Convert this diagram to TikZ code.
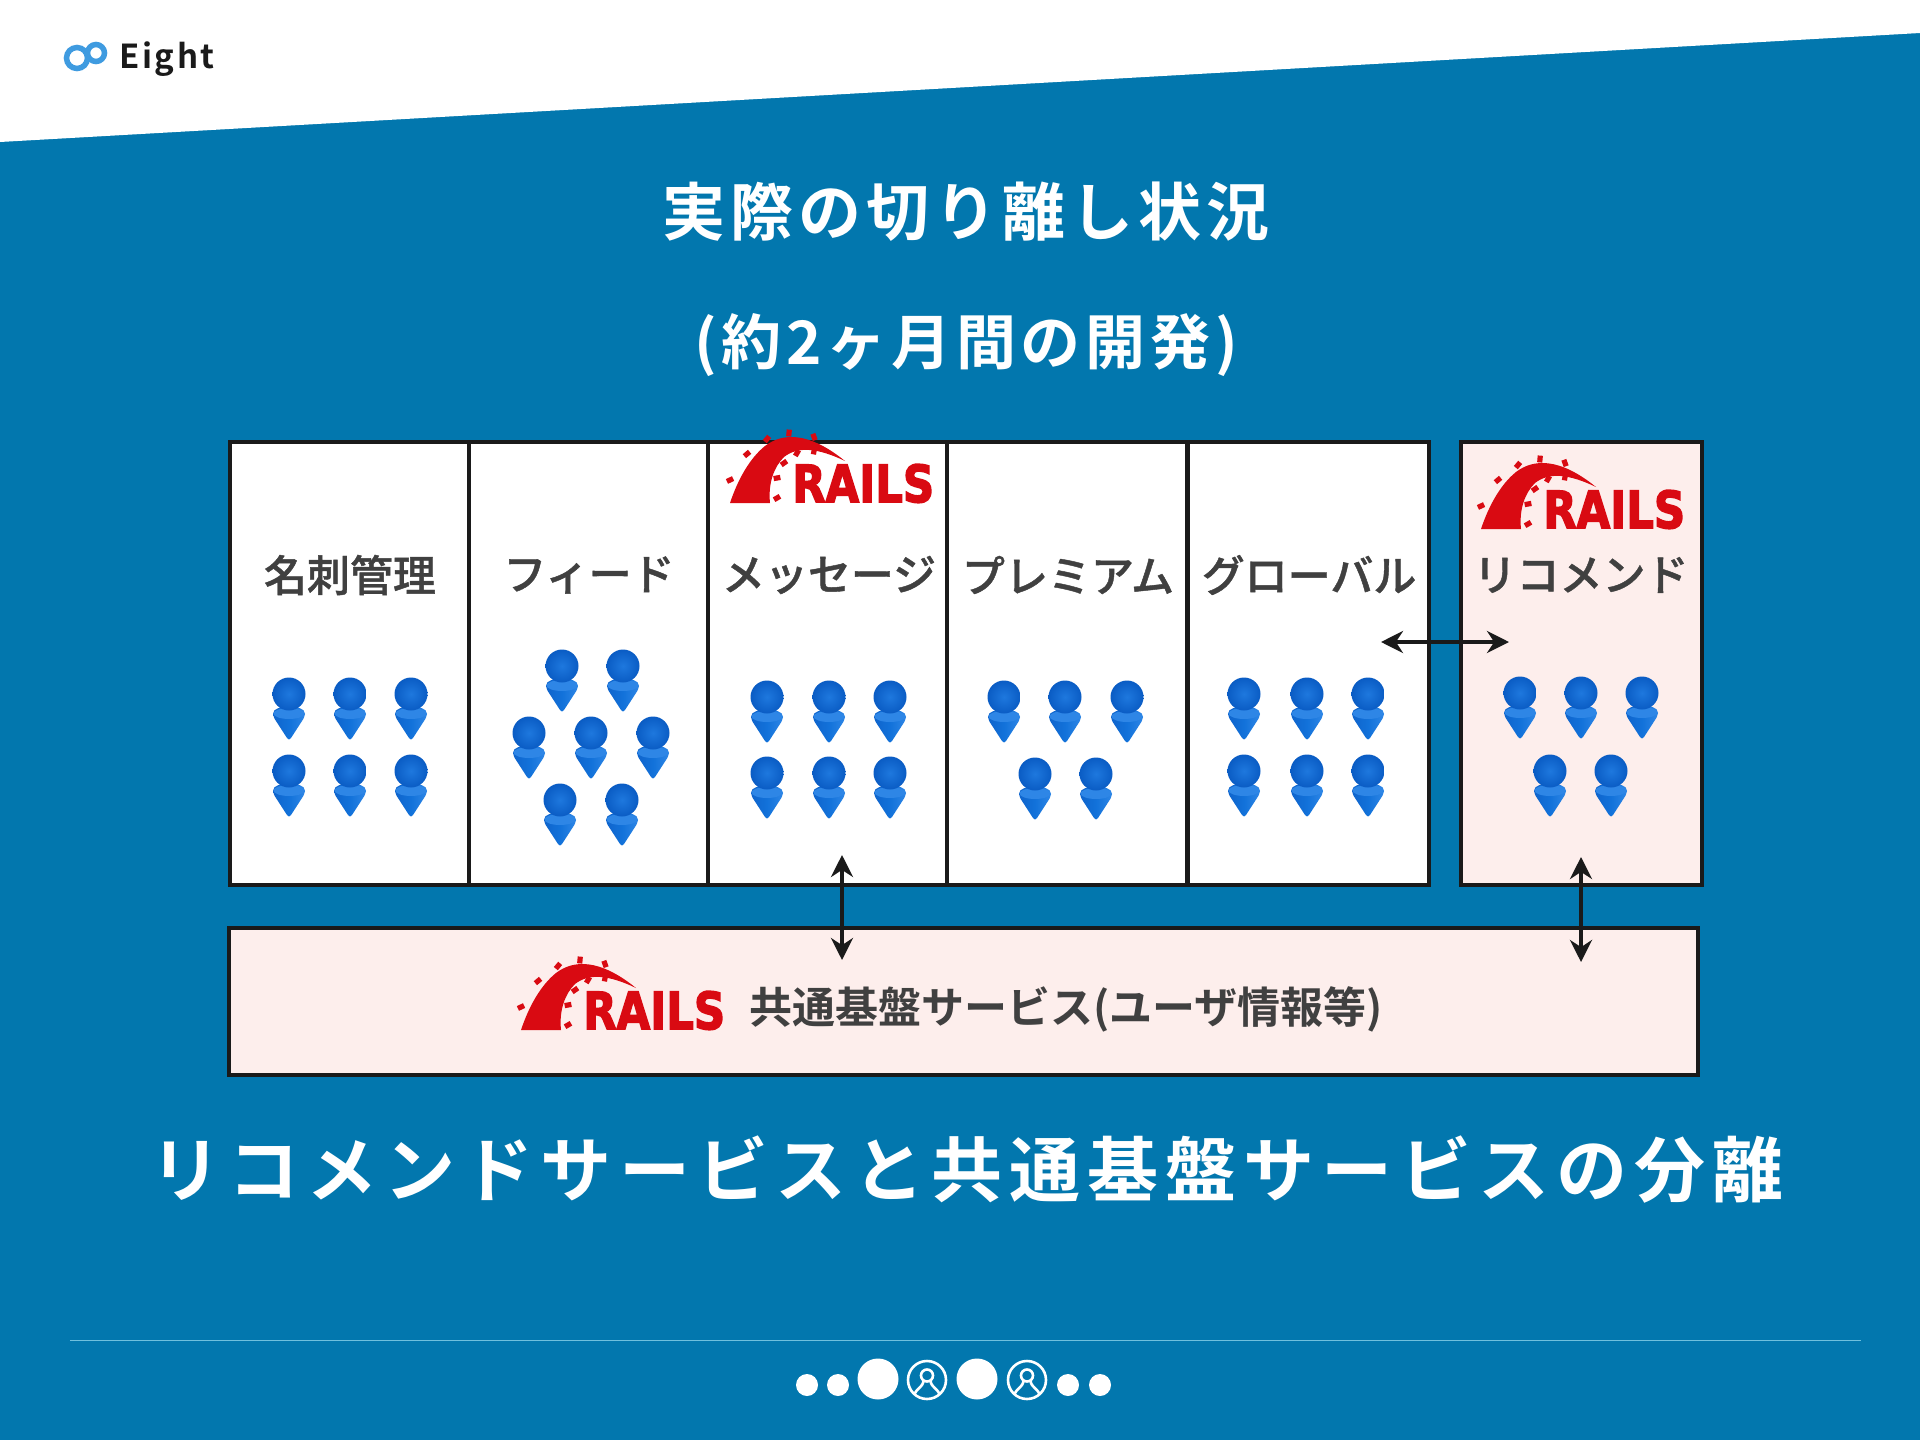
\documentclass[tikz,border=0pt]{standalone}
\usepackage{fontspec}
\usepackage{graphicx}
\usetikzlibrary{arrows.meta}
\setmainfont{Noto Sans CJK JP}
\newfontfamily\jpm[FakeBold=1]{Noto Sans CJK JP Medium}
\newfontfamily\jpbold{Noto Sans CJK JP Bold}
\newfontfamily\jptitle[LetterSpace=8]{Noto Sans CJK JP Bold}
\newfontfamily\jpbig[LetterSpace=10]{Noto Sans CJK JP Bold}
\newfontfamily\eightfont[LetterSpace=8]{Noto Sans CJK JP Bold}
\newfontfamily\railsfont[FakeBold=3]{DejaVu Sans Bold}
\definecolor{bgblue}{HTML}{0277AE}
\definecolor{pinkfill}{HTML}{FDEEEC}
\definecolor{inkdark}{HTML}{1A1A1A}
\definecolor{labelgray}{HTML}{404040}
\definecolor{railsred}{HTML}{D90A12}
\definecolor{pinblue}{HTML}{1272DA}
\definecolor{pinlight}{HTML}{2E86E6}
\definecolor{pindeep}{HTML}{0F64CC}
\definecolor{pinball}{HTML}{1E78DE}
\definecolor{pinballedge}{HTML}{0A5CC4}
\definecolor{eightblue}{HTML}{3F9BE0}
\definecolor{ruleblue}{HTML}{6FC0DE}
\tikzset{
  x=1pt,y=-1pt,
  cellbox/.style={draw=inkdark,line width=3.5pt,fill=white,anchor=north west,inner sep=0pt,outer sep=0pt},
  pinkbox/.style={cellbox,fill=pinkfill},
  celllabel/.style={text=labelgray,inner sep=0pt,font=\jpm\fontsize{43}{50}\selectfont},
  dblarrow/.style={{Stealth[length=22pt,width=22pt]}-{Stealth[length=22pt,width=22pt]},line width=4.5pt,draw=inkdark},
  bigdot/.style={circle,fill=white,inner sep=0pt,outer sep=0pt,minimum size=41pt},
  smalldot/.style={circle,fill=white,inner sep=0pt,outer sep=0pt,minimum size=22pt},
  pinicon/.pic={
    \path[shade,left color=pindeep,right color=pinlight,middle color=pinblue]
      (-16,20) .. controls (-16,14) and (-8,13) .. (0,13) .. controls (8,13) and (16,14) .. (16,20)
      .. controls (15,24) and (14,26) .. (13,27) -- (2,44) .. controls (1,46) and (-1,46) .. (-2,44) -- (-13,27)
      .. controls (-14,26) and (-15,24) .. (-16,20) -- cycle;
    \fill[pinlight] (0,19.5) ellipse (15.5pt and 5.5pt);
    \shade[inner color=pinball,outer color=pinballedge] (0,0) circle (16.5pt);
  },
  railslogo/.pic={
    \fill[railsred] (0,0) .. controls (8,-24) and (20,-45) .. (35,-57)
      .. controls (52,-70) and (78,-72) .. (115,-42)
      .. controls (88,-55) and (68,-57) .. (54,-46)
      .. controls (44,-36) and (38,-20) .. (40,0) -- cycle;
    \foreach \dx/\dy/\ang in {0/-23/25,17/-49/40,37/-64/50,59/-70/85,84/-66/110,47/-5/30,47/-25/10,54/-40/35,67/-50/60,84/-52/80}{
      \fill[railsred,rotate around={\ang:(\dx,\dy)}] (\dx-3.4,\dy-2.6) rectangle (\dx+3.4,\dy+2.6);
    }
    \node[anchor=south west,inner sep=0pt,text=railsred] (word) at (62,0) {\resizebox{142pt}{38pt}{\railsfont RAILS}};
  },
  personicon/.pic={
    \draw[white,line width=2.6pt] (0,0) circle (19pt);
    \draw[white,line width=2.6pt] (0,-4.5) circle (6pt);
    \draw[white,line width=2.6pt] (-12.5,14) .. controls (-9,7) and (-5,8) .. (-3.5,1);
    \draw[white,line width=2.6pt] (12.5,14) .. controls (9,7) and (5,8) .. (3.5,1);
  }
}
\begin{document}
\begin{tikzpicture}[x=1pt,y=-1pt]
\useasboundingbox (0,0) rectangle (1920,1440);
\fill[bgblue] (0,0) rectangle (1920,1440);
\fill[white] (0,0) -- (1920,0) -- (1920,33) -- (0,142) -- cycle;

% logo
\draw[eightblue,line width=5.5pt] (77,58) circle (10.5pt);
\draw[eightblue,line width=5.5pt] (96,53) circle (8.5pt);
\node[anchor=base west,inner sep=0pt,text=inkdark,font=\eightfont\fontsize{33}{40}\selectfont] (brand) at (119,68) {Eight};

% titles
\node[text=white,inner sep=0pt,font=\jptitle\fontsize{63}{70}\selectfont] (title1) at (966,212) {実際の切り離し状況};
\node[text=white,inner sep=0pt,font=\jptitle\fontsize{60}{70}\selectfont] (title2) at (966,345) {(約2ヶ月間の開発)};

% cells
\node[cellbox,minimum width=239pt,minimum height=443pt] (c1) at (230,442) {};
\node[cellbox,minimum width=239pt,minimum height=443pt] (c2) at (469,442) {};
\node[cellbox,minimum width=239pt,minimum height=443pt] (c3) at (708,442) {};
\node[cellbox,minimum width=240pt,minimum height=443pt] (c4) at (947,442) {};
\node[cellbox,minimum width=241pt,minimum height=443pt] (c5) at (1188,442) {};
\node[pinkbox,minimum width=241pt,minimum height=443pt] (c6) at (1461,442) {};
\node[pinkbox,minimum width=1469pt,minimum height=147pt] (base) at (229,928) {};

% labels
\node[celllabel] (l1) at (350,575) {名刺管理};
\node[celllabel] (l2) at (589,575) {フィード};
\node[celllabel] (l3) at (829,575) {メッセージ};
\node[celllabel] (l4) at (1068,575) {プレミアム};
\node[celllabel] (l5) at (1309,575) {グローバル};
\node[celllabel] (l6) at (1581,575) {リコメンド};
\node[celllabel,font=\jpbold\fontsize{43}{50}\selectfont] (l7) at (1066,1009) {共通基盤サービス(ユーザ情報等)};

% rails logos
\pic (ra) at (730,503) {railslogo};
\pic (rb) at (1481,529) {railslogo};
\pic (rc) at (521,1030) {railslogo};

% pins
\foreach \px/\py in {289/694,350/694,411/694,289/771,350/771,411/771,
  562/666,623/666,529/733,591/733,653/733,560/800,622/800,
  767/697,829/697,890/697,767/773,829/773,890/773,
  1004/697,1065/697,1127/697,1035/774,1096/774,
  1244/694,1307/694,1368/694,1244/771,1307/771,1368/771,
  1520/693,1581/693,1642/693,1550/771,1611/771}{
  \pic at (\px,\py) {pinicon};
}

% connectors
\coordinate (h1) at (1381,642);
\coordinate (h2) at (1509,642);
\coordinate (v1a) at (842,855);
\coordinate (v1b) at (842,960);
\coordinate (v2a) at (1581,857);
\coordinate (v2b) at (1581,962);
\draw[dblarrow] (h1) -- (h2);
\draw[dblarrow] (v1a) -- (v1b);
\draw[dblarrow] (v2a) -- (v2b);

% bottom text
\node[text=white,inner sep=0pt,font=\jpbig\fontsize{71}{80}\selectfont] (big) at (967,1170) {リコメンドサービスと共通基盤サービスの分離};

% footer
\draw[ruleblue,line width=1pt] (70,1340) -- (1861,1340);
\node[smalldot] (d1) at (807,1385) {};
\node[smalldot] (d2) at (838,1385) {};
\node[bigdot] (d3) at (878,1379) {};
\pic at (927,1380) {personicon};
\node[bigdot] (d4) at (977,1379) {};
\pic at (1027,1380) {personicon};
\node[smalldot] (d5) at (1068,1385) {};
\node[smalldot] (d6) at (1100,1385) {};
\end{tikzpicture}
\end{document}
